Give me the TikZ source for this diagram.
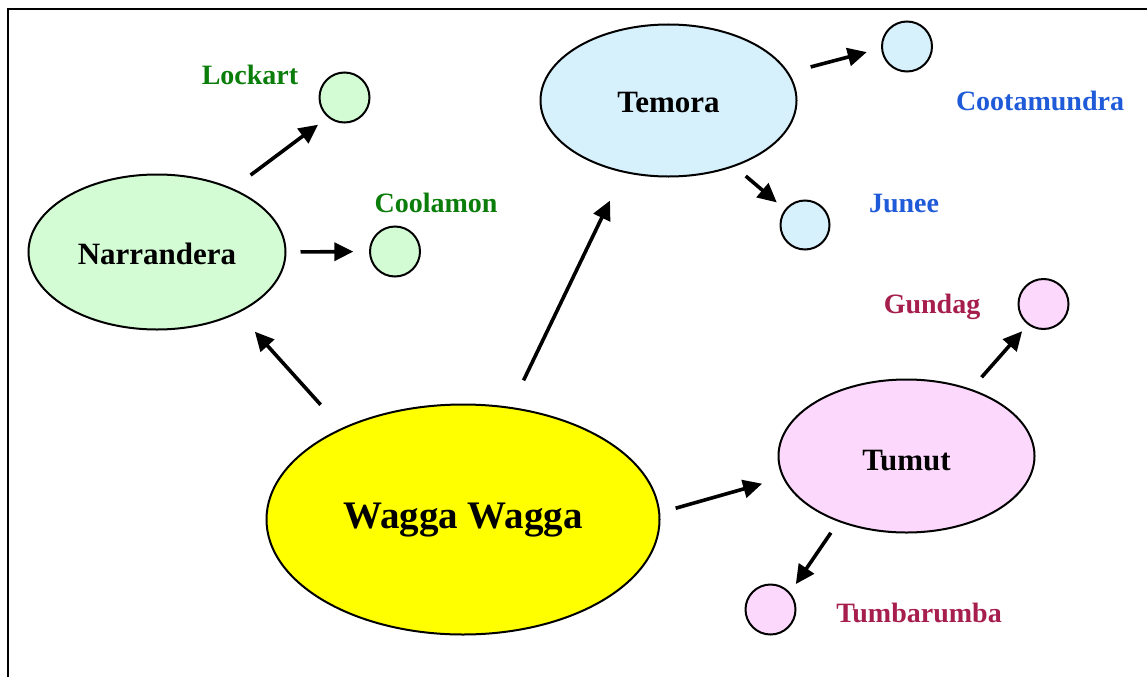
\documentclass[tikz,border=0pt]{standalone}
\usepackage{fontspec}
\setmainfont{Liberation Serif}
\usetikzlibrary{shapes.geometric,arrows.meta}
\definecolor{gfill}{HTML}{D4FCD4}
\definecolor{bfill}{HTML}{D6F0FC}
\definecolor{pfill}{HTML}{FDD8FD}
\definecolor{yfill}{HTML}{FFFF00}
\definecolor{tgreen}{HTML}{0A7D0A}
\definecolor{tblue}{HTML}{1F5AD8}
\definecolor{tred}{HTML}{A61E4D}
\begin{document}
\begin{tikzpicture}[x=1pt,y=-1pt,
  big/.style={ellipse,draw=black,line width=2pt,inner sep=0pt,font=\bfseries\fontsize{31}{37}\selectfont,text depth=0pt},
  town/.style={circle,draw=black,line width=2pt,inner sep=0pt,minimum size=50pt},
  lbl/.style={anchor=base,inner sep=0pt,font=\bfseries\fontsize{28}{34}\selectfont},
  arr/.style={line width=3.6pt,-{Triangle[length=19pt,width=18pt]}}]
\useasboundingbox (0,0) rectangle (1147,677);
\fill[white] (0,0) rectangle (1147,677);
\draw[line width=2pt] (7.5,677) -- (7.5,9.5) -- (1147,9.5);

% main ellipses
\node[big,fill=gfill,minimum width=257pt,minimum height=155pt,text height=24pt] (narr) at (157,252) {Narrandera};
\node[big,fill=bfill,minimum width=256pt,minimum height=152pt,text height=23pt] (temora) at (668.5,100.5) {Temora};
\node[big,fill=pfill,minimum width=256pt,minimum height=153pt,text height=28pt] (tumut) at (906.5,456) {Tumut};
\node[big,fill=yfill,minimum width=393pt,minimum height=230pt,text height=17pt,font=\bfseries\fontsize{39}{45}\selectfont] (wagga) at (463,519.5) {Wagga Wagga};

% small towns
\node[town,fill=gfill] (lockart) at (344.5,97.5) {};
\node[town,fill=gfill] (coolamon) at (395,251.5) {};
\node[town,fill=bfill] (coota) at (907,46.5) {};
\node[town,fill=bfill,minimum size=49pt] (junee) at (805,225) {};
\node[town,fill=pfill] (gundag) at (1043.5,304) {};
\node[town,fill=pfill] (tumba) at (770.5,609.5) {};

% labels
\node[lbl,text=tgreen] (lockartlbl) at (250,84) {Lockart};
\node[lbl,text=tgreen] (coolamonlbl) at (436,212) {Coolamon};
\node[lbl,text=tblue] (cootalbl) at (1040,110) {Cootamundra};
\node[lbl,text=tblue] (juneelbl) at (904,212) {Junee};
\node[lbl,text=tred] (gundaglbl) at (932,313) {Gundag};
\node[lbl,text=tred] (tumbalbl) at (919,622) {Tumbarumba};

% arrows
\draw[arr,shorten <=22.2pt,shorten >=12.2pt] (narr.40.7) -- (lockart.-130.9);
\draw[arr,shorten <=14pt,shorten >=15.7pt] (narr.0) -- (coolamon.180);
\draw[arr,shorten <=31.3pt,shorten >=24.9pt] (wagga.143.7) -- (narr.-37.7);
\draw[arr,shorten <=29.5pt,shorten >=31pt] (wagga.67.3) -- (temora.-122.6);
\draw[arr,shorten <=16.1pt,shorten >=21.4pt] (wagga.2.4) -- (tumut.-170.9);
\draw[arr,shorten <=22.6pt,shorten >=14.8pt] (temora.13.7) -- (coota.-176.5);
\draw[arr,shorten <=14.6pt,shorten >=10.6pt] (temora.-45.9) -- (junee.142.3);
\draw[arr,shorten <=15.6pt,shorten >=8.6pt] (tumut.46.8) -- (gundag.-127.2);
\draw[arr,shorten <=13.3pt,shorten >=10.1pt] (tumut.-136.2) -- (tumba.41.4);
\end{tikzpicture}
\end{document}
